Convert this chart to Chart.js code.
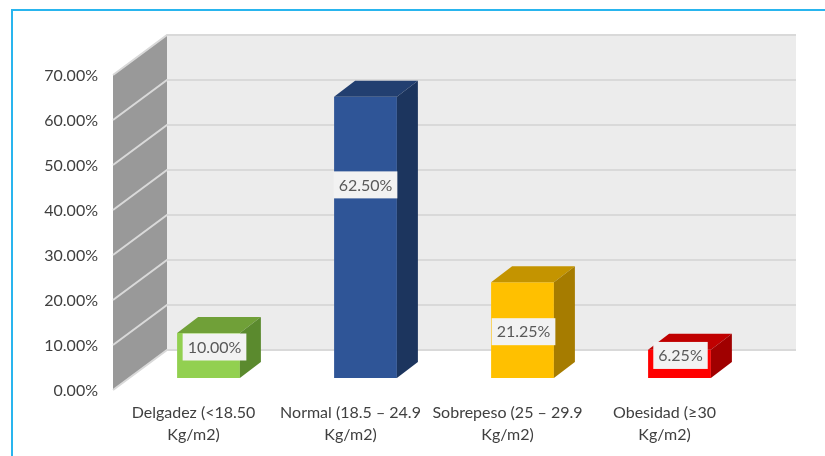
<!DOCTYPE html>
<html>
<head>
<meta charset="utf-8">
<style>
  html, body { margin: 0; padding: 0; background: #fff; overflow: hidden; }
  #marco { position: absolute; left: 11px; top: 9px; width: 830px; height: 460px; border: 2px solid #29b5ee; }
  canvas { position: absolute; left: 0; top: 0; }
</style>
<script src="https://cdn.jsdelivr.net/npm/chart.js@4/dist/chart.umd.min.js"></script>
</head>
<body>
<div id="marco"></div>
<canvas id="grafico" width="825" height="456"></canvas>
<script>
// Datos
const categorias = [
  ['Delgadez (<18.50', 'Kg/m2)'],
  ['Normal (18.5 – 24.9', 'Kg/m2)'],
  ['Sobrepeso (25 – 29.9', 'Kg/m2)'],
  ['Obesidad (≥30', 'Kg/m2)']
];
const valores = [10, 62.5, 21.25, 6.25];
const ticksY = [0, 10, 20, 30, 40, 50, 60, 70];

// Colores de cada barra
const colorFrente = ['#92d050', '#2f5597', '#ffc000', '#ff0000'];
const colorTecho = ['#70a038', '#223f70', '#c49400', '#c00000'];
const colorLado = ['#5b8a2e', '#1c355e', '#a67c00', '#a00000'];

// Profundidad del efecto 3D
const fondoX = 54, fondoY = 40;
const barraX = 21, barraY = 16;
const fuente = 'Lato, "Open Sans", sans-serif';

// Ajuste de las etiquetas respecto al centro de la barra
const ajusteEtiqueta = [[6, -8], [0, -52], [1, 2], [1, -8]];

function poligono(ctx, puntos, color) {
  ctx.fillStyle = color;
  ctx.beginPath();
  puntos.forEach((p, i) => i ? ctx.lineTo(p[0], p[1]) : ctx.moveTo(p[0], p[1]));
  ctx.closePath();
  ctx.fill();
}

// Paredes y rejilla
const paredes = {
  id: 'paredes',
  beforeDatasetsDraw(chart) {
    const { ctx, chartArea, scales } = chart;
    const izq = chartArea.left - 17;
    const der = chartArea.right + 38;
    const y0 = scales.y.getPixelForValue(0);
    const y70 = scales.y.getPixelForValue(70);
    ctx.save();
    poligono(ctx, [[izq + fondoX, y70 - fondoY], [der, y70 - fondoY], [der, y0 - fondoY], [izq + fondoX, y0 - fondoY]], '#ececec');
    poligono(ctx, [[izq, y70], [izq + fondoX, y70 - fondoY], [izq + fondoX, y0 - fondoY], [izq, y0]], '#999999');
    ctx.strokeStyle = '#d9d9d9';
    ctx.lineWidth = 2;
    ticksY.forEach(t => {
      const y = scales.y.getPixelForValue(t);
      ctx.beginPath();
      ctx.moveTo(izq, y);
      ctx.lineTo(izq + fondoX, y - fondoY);
      ctx.lineTo(der, y - fondoY);
      ctx.stroke();
    });
    ctx.restore();
  }
};

// Caras laterales de las barras y etiquetas
const barras3d = {
  id: 'barras3d',
  afterDatasetsDraw(chart) {
    const { ctx } = chart;
    const elementos = chart.getDatasetMeta(0).data;
    ctx.save();
    elementos.forEach((el, i) => {
      const l = el.x - el.width / 2, r = el.x + el.width / 2;
      poligono(ctx, [[l, el.y], [l + barraX, el.y - barraY], [r + barraX, el.y - barraY], [r, el.y]], colorTecho[i]);
      poligono(ctx, [[r, el.y], [r + barraX, el.y - barraY], [r + barraX, el.base - barraY], [r, el.base]], colorLado[i]);
    });
    ctx.font = '16px ' + fuente;
    ctx.textAlign = 'center';
    ctx.textBaseline = 'middle';
    elementos.forEach((el, i) => {
      const texto = valores[i].toFixed(2) + '%';
      const cx = el.x + ajusteEtiqueta[i][0];
      const cy = (el.y + el.base) / 2 + ajusteEtiqueta[i][1];
      const ancho = ctx.measureText(texto).width + 10;
      ctx.fillStyle = '#f2f2f2';
      ctx.fillRect(cx - ancho / 2, cy - 14, ancho, 27);
      ctx.fillStyle = '#595959';
      ctx.fillText(texto, cx, cy);
    });
    ctx.restore();
  }
};

new Chart(document.getElementById('grafico'), {
  type: 'bar',
  data: {
    labels: categorias,
    datasets: [{
      data: valores,
      yAxisID: 'yBarras',
      backgroundColor: colorFrente,
      barPercentage: 0.4,
      categoryPercentage: 1
    }]
  },
  options: {
    responsive: false,
    animation: false,
    devicePixelRatio: 1,
    layout: { padding: { top: 75, right: 67, left: 0, bottom: 0 } },
    plugins: { legend: { display: false }, tooltip: { enabled: false } },
    scales: {
      x: {
        grid: { display: false },
        border: { display: false },
        afterFit: s => { s.height = 66; },
        ticks: {
          autoSkip: false,
          maxRotation: 0,
          padding: 4,
          labelOffset: -15,
          color: '#404040',
          font: { family: fuente, size: 16, lineHeight: 1.36 }
        }
      },
      y: {
        min: 0,
        max: 70,
        grid: { display: false },
        border: { display: false },
        afterFit: s => { s.width = 130; },
        afterBuildTicks: s => { s.ticks = ticksY.map(v => ({ value: v })); },
        ticks: {
          padding: 24,
          labelOffset: 1,
          color: '#404040',
          font: { family: fuente, size: 16 },
          callback: v => v.toFixed(2) + '%'
        }
      },
      // la base de las barras queda 12 px por encima del eje
      yBarras: { display: false, min: -2.667, max: 67.333 }
    }
  },
  plugins: [paredes, barras3d]
});
</script>
</body>
</html>
